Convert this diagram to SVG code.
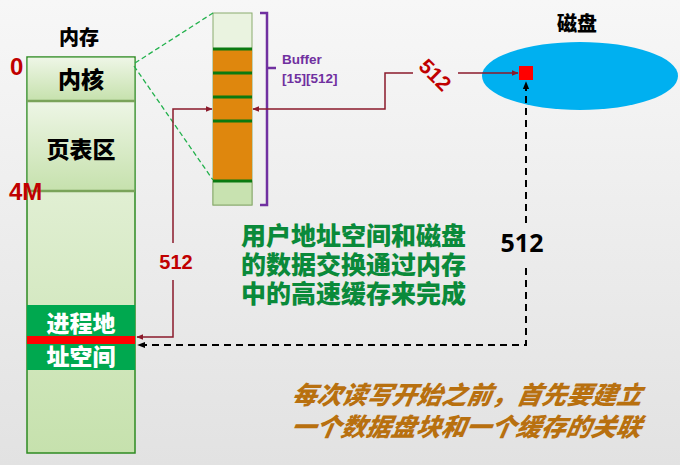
<svg xmlns="http://www.w3.org/2000/svg" width="680" height="465" viewBox="0 0 680 465">
<defs>
<linearGradient id="bg" x1="0" y1="0" x2="0" y2="1">
<stop offset="0" stop-color="#f7f7f7"/><stop offset="1" stop-color="#e2e2e2"/>
</linearGradient>
<linearGradient id="gblk" x1="0" y1="0" x2="0" y2="1">
<stop offset="0" stop-color="#eef6e6"/><stop offset="1" stop-color="#c6e1ad"/>
</linearGradient>
<marker id="ar" viewBox="0 0 10 10" refX="9" refY="5" markerWidth="7" markerHeight="7" orient="auto-start-reverse" markerUnits="userSpaceOnUse">
<path d="M0,1 L10,5 L0,9 z" fill="#8b1a2b"/>
</marker>
<marker id="ak" viewBox="0 0 10 10" refX="9" refY="5" markerWidth="8" markerHeight="8" orient="auto-start-reverse" markerUnits="userSpaceOnUse">
<path d="M0,1 L10,5 L0,9 z" fill="#000"/>
</marker>
<style>
.blk{fill:url(#gblk);stroke:#2e8b22;stroke-width:1.5}
.cn{font-family:"Noto Sans CJK SC","Noto Sans",sans-serif;font-weight:900}
.num{font-family:"Liberation Sans","Noto Sans",sans-serif;font-weight:bold}
.red{fill:#c00000}
.gl{stroke:#0a7a10;stroke-width:3}
.conn{fill:none;stroke:#8b1a2b;stroke-width:1.5}
.dash{fill:none;stroke:#000;stroke-width:2;stroke-dasharray:7,5}
</style>
</defs>
<rect width="680" height="465" fill="url(#bg)"/>

<g id="memory">
<text class="cn" x="79" y="45" font-size="20" text-anchor="middle" fill="#000">内存</text>
<rect class="blk" x="27" y="57" width="108" height="396"/>
<rect x="27.75" y="57.75" width="106.5" height="43" fill="url(#gblk)"/>
<rect x="27.75" y="101" width="106.5" height="90" fill="url(#gblk)"/>
<line x1="27" y1="101" x2="135" y2="101" stroke="#7aa35a" stroke-width="2.5"/>
<line x1="27" y1="191" x2="135" y2="191" stroke="#7aa35a" stroke-width="2.5"/>
<text class="cn" x="81" y="88" font-size="23" text-anchor="middle" fill="#000">内核</text>
<text class="cn" x="81" y="158" font-size="23" text-anchor="middle" fill="#000">页表区</text>
<text class="num red" x="10" y="75" font-size="24">0</text>
<text class="num red" x="9" y="200" font-size="24">4M</text>
</g>

<g id="process-space">
<rect x="27" y="305" width="108" height="65" fill="#00a84f"/>
<rect x="27" y="336" width="108" height="8" fill="#ff0000"/>
<text class="cn" x="81" y="332" font-size="23" text-anchor="middle" fill="#fff">进程地</text>
<text class="cn" x="81" y="365" font-size="23" text-anchor="middle" fill="#fff">址空间</text>
</g>

<g id="buffer">
<rect x="213" y="13" width="39" height="192" fill="#eaf3e0" stroke="#8aab6e" stroke-width="1"/>
<rect x="213" y="181" width="39" height="24" fill="#c8e2b0" stroke="#8aab6e" stroke-width="1"/>
<rect x="213" y="49" width="39" height="132" fill="#df870d"/>
<line class="gl" x1="213" y1="49" x2="252" y2="49"/>
<line class="gl" x1="213" y1="73" x2="252" y2="73"/>
<line class="gl" x1="213" y1="97" x2="252" y2="97"/>
<line class="gl" x1="213" y1="121" x2="252" y2="121"/>
<line class="gl" x1="213" y1="181" x2="252" y2="181"/>
<path d="M260,13 H267 V205 H260 M267,68 H276" fill="none" stroke="#7030a0" stroke-width="2.5"/>
<text class="num" x="282" y="64" font-size="13.5" fill="#7030a0">Buffer</text>
<text class="num" x="282" y="83" font-size="13.5" fill="#7030a0">[15][512]</text>
</g>

<g id="disk">
<text class="cn" x="577" y="31" font-size="20" text-anchor="middle" fill="#000">磁盘</text>
<ellipse cx="580" cy="76" rx="98" ry="34" fill="#00b0f0"/>
<rect x="519" y="66" width="14" height="14" fill="#ff0000"/>
</g>

<g id="connectors">
<path d="M135,63 L213,13 M134,66 L213,180" fill="none" stroke="#22b14c" stroke-width="1.3" stroke-dasharray="5,3"/>
<path class="conn" d="M173,243 V109 H212" marker-end="url(#ar)"/>
<path class="conn" d="M173,280 V337 H137" marker-end="url(#ar)"/>
<text class="num red" x="176" y="269" font-size="20" text-anchor="middle">512</text>
<path class="conn" d="M413,73 H385 V109 H253" marker-end="url(#ar)"/>
<path class="conn" d="M458,73 H518" marker-end="url(#ar)"/>
<text class="num red" x="0" y="0" font-size="21" text-anchor="middle" transform="translate(430,80) rotate(45)">512</text>
<path class="dash" d="M526,223 V82" marker-end="url(#ak)"/>
<path class="dash" d="M526,268 V345 H138" marker-end="url(#ak)"/>
<text x="522" y="252" font-size="25" text-anchor="middle" fill="#000" font-family="'Noto Sans','Liberation Sans',sans-serif" font-weight="bold">512</text>
</g>

<g id="notes">
<text class="cn" font-size="25" fill="#0a8a3a">
<tspan x="241" y="245">用户地址空间和磁盘</tspan>
<tspan x="241" y="274">的数据交换通过内存</tspan>
<tspan x="241" y="303">中的高速缓存来完成</tspan>
</text>
<text class="cn" font-size="25" fill="#b8700f" font-style="italic" transform="skewX(-10)">
<tspan x="362" y="404">每次读写开始之前，首先要建立</tspan>
<tspan x="367" y="436">一个数据盘块和一个缓存的关联</tspan>
</text>
</g>
</svg>
